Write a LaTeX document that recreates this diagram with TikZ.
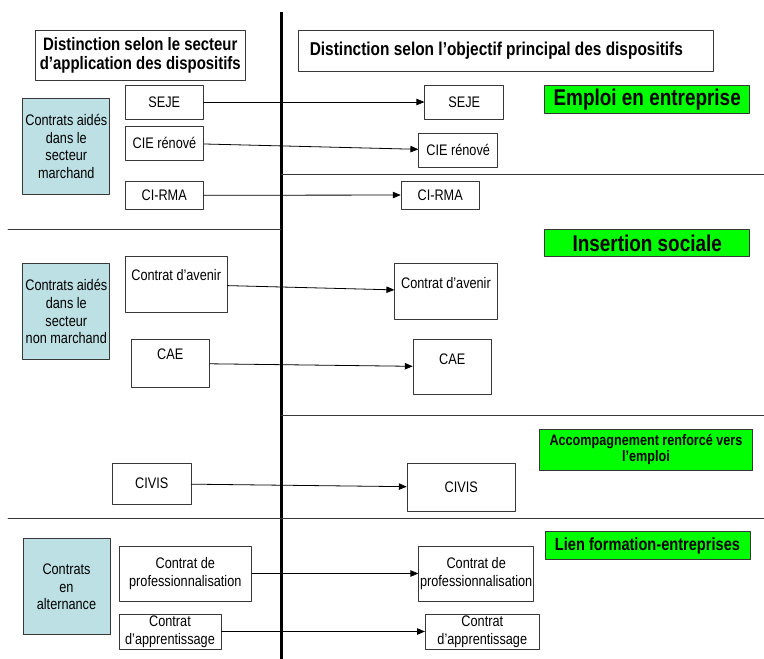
\documentclass[tikz,border=0pt]{standalone}
\usepackage{fontspec}
\setmainfont{Liberation Sans}[FakeStretch=0.83]
\usetikzlibrary{arrows}
\definecolor{cyanpale}{RGB}{188,224,228}
\definecolor{vertvif}{RGB}{0,255,0}
\definecolor{trait}{RGB}{55,55,55}
\tikzset{
  boite/.style={draw=trait,line width=0.8pt,fill=white,inner sep=0pt,align=center,font=\fontsize{15.3}{17.6}\selectfont},
  secteur/.style={boite,fill=cyanpale,minimum width=87pt,minimum height=96pt},
  objectif/.style={boite,fill=vertvif,font=\bfseries\fontsize{22.8}{24}\selectfont},
  titre/.style={boite,font=\bfseries\fontsize{18}{18.5}\selectfont},
  haut/.style 2 args={text height=#1,text depth=#2},
  fleche/.style={->,line width=0.8pt}
}

\begin{document}
\begin{tikzpicture}[line cap=round,line join=round,>=triangle 45,x=1pt,y=-1pt]
		\useasboundingbox (0,0) rectangle (764,659);
		% separations
		\draw[line width=3pt,line cap=butt] (281.5,12) -- (281.5,659);
		\draw[color=trait,line width=0.8pt] (8,229) -- (281,229);
		\draw[color=trait,line width=0.8pt] (8,518) -- (764,518);
		\draw[color=trait,line width=0.8pt] (281,174) -- (764,174);
		\draw[color=trait,line width=0.8pt] (281,415) -- (764,415);
		% titres
		\node[titre,minimum width=210pt,minimum height=50pt] (titreG) at (140.3,55.3) {Distinction selon le secteur\\d'application des dispositifs};
		\node[titre,text width=393pt,align=flush left,inner xsep=11pt,minimum height=41pt,font=\bfseries\fontsize{18.6}{19}\selectfont] (titreD) at (506.3,50.5) {Distinction selon l'objectif principal des dispositifs};
		% secteurs
		\node[secteur] (marchand) at (66.3,146.3) {Contrats aidés\\dans le\\secteur\\marchand};
		\node[secteur] (nonmarchand) at (66.3,311.7) {Contrats aidés\\dans le\\secteur\\non marchand};
		\node[secteur] (alternance) at (66.5,586.8) {Contrats\\en\\alternance};
		% objectifs
		\node[objectif,minimum width=205pt,minimum height=28pt] (emploi) at (647.2,99.2) {Emploi en entreprise};
		\node[objectif,minimum width=205pt,minimum height=27pt] (insertion) at (647.2,243) {Insertion sociale};
		\node[objectif,minimum width=213pt,minimum height=41pt,font=\bfseries\fontsize{15.2}{16.5}\selectfont] (accomp) at (646,449.5) {Accompagnement renforcé vers\\l'emploi};
		\node[objectif,minimum width=205pt,minimum height=27.6pt,font=\bfseries\fontsize{17.6}{19}\selectfont] (lien) at (647.5,545.5) {Lien formation-entreprises};
		% dispositifs, a gauche
		\node[boite,minimum width=78pt,minimum height=34pt] (sejeG) at (164.2,102) {SEJE};
		\node[boite,minimum width=78pt,minimum height=34pt] (cieG) at (164.5,143) {CIE rénové};
		\node[boite,minimum width=78pt,minimum height=27.3pt] (cirmaG) at (164.2,195.3) {CI-RMA};
		\node[boite,minimum width=102.3pt,haut={24pt}{31.3pt}] (avenirG) at (176.2,284.3) {Contrat d'avenir};
		\node[boite,minimum width=78.3pt,haut={20pt}{28pt}] (caeG) at (170.2,363.3) {CAE};
		\node[boite,minimum width=78.3pt,minimum height=40.7pt] (civisG) at (151.8,483.7) {CIVIS};
		\node[boite,minimum width=132.7pt,minimum height=55pt] (profG) at (185.3,573.5) {Contrat de\\professionnalisation};
		\node[boite,minimum width=102pt,minimum height=35pt] (apprG) at (170,631.5) {Contrat\\d'apprentissage};
		% dispositifs, a droite
		\node[boite,minimum width=79pt,minimum height=34pt] (sejeD) at (464.2,102) {SEJE};
		\node[boite,minimum width=79pt,minimum height=34pt] (cieD) at (458.2,150.3) {CIE rénové};
		\node[boite,minimum width=78.3pt,minimum height=28pt] (cirmaD) at (440.2,195) {CI-RMA};
		\node[boite,minimum width=102.6pt,haut={25pt}{30.7pt}] (avenirD) at (446,291.2) {Contrat d'avenir};
		\node[boite,minimum width=78.3pt,haut={24.7pt}{30.3pt}] (caeD) at (452.2,366.8) {CAE};
		\node[boite,minimum width=108.3pt,minimum height=48pt] (civisD) at (461.2,487.3) {CIVIS};
		\node[boite,minimum width=115pt,minimum height=55pt] (profD) at (476.2,573.5) {Contrat de\\professionnalisation};
		\node[boite,minimum width=114pt,minimum height=35pt] (apprD) at (482.3,631.5) {Contrat\\d'apprentissage};
		% fleches
		\draw[fleche] (sejeG) -- (sejeD);
		\draw[fleche] (cieG) -- (cieD);
		\draw[fleche] (cirmaG) -- (cirmaD);
		\draw[fleche] (avenirG) -- (avenirD);
		\draw[fleche] (caeG) -- (caeD);
		\draw[fleche] (civisG) -- (civisD);
		\draw[fleche] (profG) -- (profD);
		\draw[fleche] (apprG) -- (apprD);
		\end{tikzpicture}
\end{document}
